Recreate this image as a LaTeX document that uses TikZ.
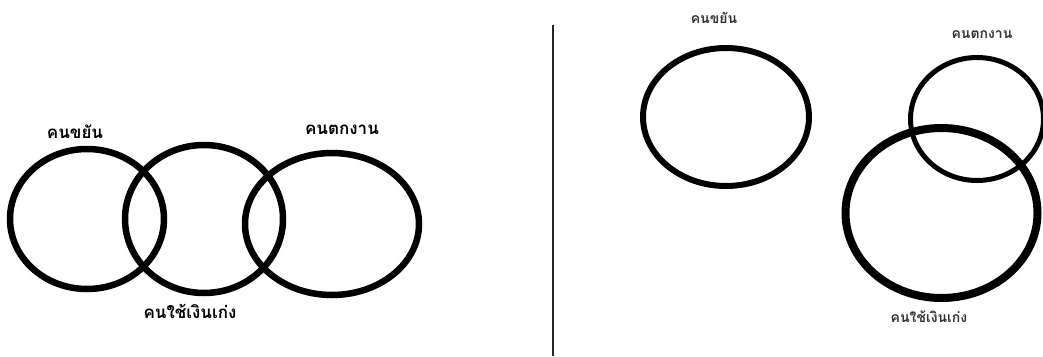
\documentclass[tikz,border=0pt]{standalone}
\usepackage{fontspec}
\newfontfamily\thaifont[Script=Thai]{Loma}
\usepackage{tikz}
\usetikzlibrary{positioning}

\tikzset{
    ring/.style={draw=black, line width=#1},
    biglabel/.style={font=\thaifont\bfseries\fontsize{17}{20}\selectfont, inner sep=0pt},
    smalllabel/.style={font=\thaifont\bfseries\fontsize{14}{16}\selectfont, inner sep=0pt, text=black!80}
}

\begin{document}
\begin{tikzpicture}[x=1pt, y=-1pt]
    \useasboundingbox (0,0) rectangle (1043,356);
    \clip (0,0) rectangle (1043,356);

    % Left: three overlapping sets
    \draw[ring=6.5pt] (87, 219) ellipse (77 and 70);
    \draw[ring=6.5pt] (204, 219) ellipse (79 and 74);
    \draw[ring=6.5pt] (332, 224) ellipse (87 and 71);
    \node[biglabel] (diligentL) at (75, 132) {คนขยัน};
    \node[biglabel] (joblessL) at (342, 130) {คนตกงาน};
    \node[biglabel] (spenderL) at (190, 311) {คนใช้เงินเก่ง};

    % Divider
    \coordinate (divtop) at (553, 25);
    \coordinate (divbot) at (553, 356);
    \draw[line width=1.8pt, black!85] (divtop) -- (divbot);

    % Right: separate and overlapping sets
    \draw[ring=6pt] (726, 117) ellipse (83 and 69);
    \draw[ring=5pt] (977, 119) ellipse (66.5 and 61.5);
    \draw[ring=8pt] (941.5, 213) ellipse (96 and 85);
    \node[smalllabel] (diligentR) at (714, 18) {คนขยัน};
    \node[smalllabel] (joblessR) at (982, 35) {คนตกงาน};
    \node[smalllabel] (spenderR) at (929, 317) {คนใช้เงินเก่ง};
\end{tikzpicture}
\end{document}
